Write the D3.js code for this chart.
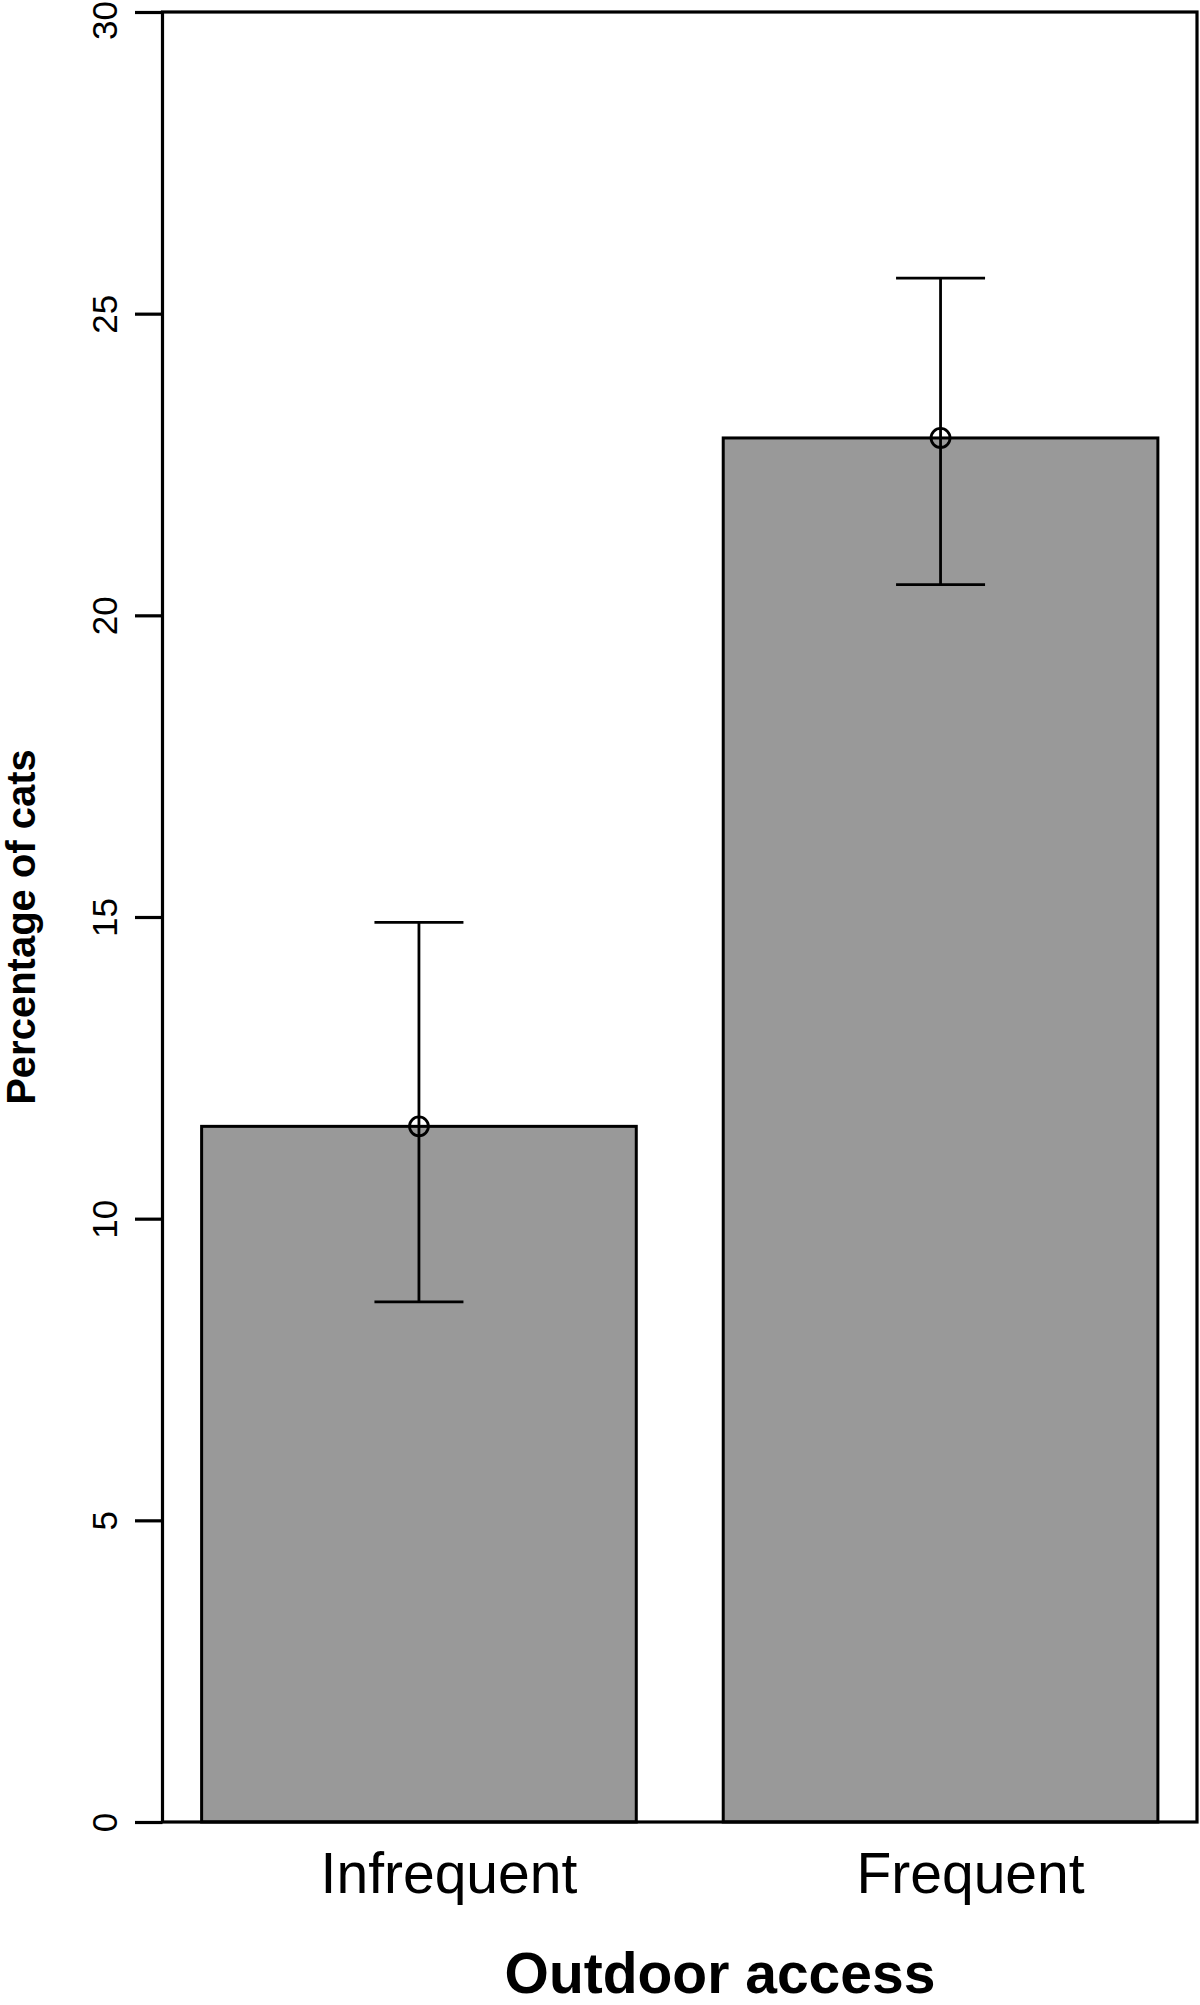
<!DOCTYPE html>
<html>
<head>
<meta charset="utf-8">
<script src="https://cdn.jsdelivr.net/npm/d3@7"></script>
<style>
  body { margin: 0; background: #fff; }
  svg { display: block; }
  text { font-family: "Liberation Sans", Arial, Helvetica, sans-serif; fill: #000; }
</style>
</head>
<body>
<script>
// data
var categories = ["Infrequent", "Frequent"];
var percent = [11.53, 22.94];
var ciLow = [8.62, 20.51];
var ciHigh = [14.91, 25.59];
var yTicks = [0, 5, 10, 15, 20, 25, 30];

var width = 1200, height = 2005;
var margin = {top: 12, right: 3, bottom: 183, left: 162.5};

var svg = d3.select("body").append("svg")
  .attr("width", width)
  .attr("height", height);

var x = d3.scaleBand()
  .domain(categories)
  .range([margin.left, width - margin.right])
  .paddingInner(0.1667)
  .paddingOuter(0.075);

var y = d3.scaleLinear()
  .domain([0, 30])
  .range([height - margin.bottom, margin.top]);

var rows = categories.map(function(c, i) {
  return {cat: c, v: percent[i], lo: ciLow[i], hi: ciHigh[i]};
});

// bars
svg.append("g").selectAll("rect")
  .data(rows)
  .enter()
  .append("rect")
  .attr("x", function(d) { return x(d.cat); })
  .attr("y", function(d) { return y(d.v); })
  .attr("width", x.bandwidth())
  .attr("height", function(d) { return y(0) - y(d.v); })
  .attr("fill", "#999999")
  .attr("stroke", "#000")
  .attr("stroke-width", 3);

// error bars
var capHalf = 44.5;
var eb = svg.append("g").attr("stroke", "#000").attr("stroke-width", 2.8).attr("fill", "none");
rows.forEach(function(d) {
  var cx = x(d.cat) + x.bandwidth() / 2;
  eb.append("line").attr("x1", cx).attr("x2", cx).attr("y1", y(d.lo)).attr("y2", y(d.hi));
  eb.append("line").attr("x1", cx - capHalf).attr("x2", cx + capHalf).attr("y1", y(d.hi)).attr("y2", y(d.hi));
  eb.append("line").attr("x1", cx - capHalf).attr("x2", cx + capHalf).attr("y1", y(d.lo)).attr("y2", y(d.lo));
  eb.append("circle").attr("cx", cx).attr("cy", y(d.v)).attr("r", 9.5);
});

// box around plot
svg.append("rect")
  .attr("x", margin.left)
  .attr("y", margin.top)
  .attr("width", width - margin.right - margin.left)
  .attr("height", y(0) - margin.top)
  .attr("fill", "none")
  .attr("stroke", "#000")
  .attr("stroke-width", 3.2);

// y axis
var yAxis = d3.axisLeft(y)
  .tickValues(yTicks)
  .tickSize(27.5)
  .tickPadding(0)
  .tickFormat(d3.format("d"));

var ag = svg.append("g")
  .attr("transform", "translate(" + margin.left + ",0)")
  .call(yAxis);
ag.select(".domain").remove();
ag.selectAll(".tick line").attr("stroke", "#000").attr("stroke-width", 3.2);
ag.selectAll(".tick text")
  .attr("x", null).attr("dy", null)
  .attr("text-anchor", "middle")
  // keep the top label inside the picture
  .attr("transform", function(d) {
    var shift = Math.max(0, 20 - y(d));
    return "translate(-45.5," + shift + ") rotate(-90)";
  })
  .style("font-size", "35px")
  .style("font-family", "'Liberation Sans', Arial, sans-serif");

// category labels
svg.append("g").selectAll("text")
  .data(categories)
  .enter()
  .append("text")
  .attr("x", function(d) { return x(d) + x.bandwidth() / 2 + 30; })
  .attr("y", 1893)
  .attr("text-anchor", "middle")
  .style("font-size", "57px")
  .text(function(d) { return d; });

// axis titles
svg.append("text")
  .attr("x", 720)
  .attr("y", 1993)
  .attr("text-anchor", "middle")
  .style("font-size", "57px")
  .style("font-weight", "bold")
  .text("Outdoor access");

svg.append("text")
  .attr("transform", "translate(35,927) rotate(-90)")
  .attr("text-anchor", "middle")
  .style("font-size", "40px")
  .style("font-weight", "bold")
  .text("Percentage of cats");
</script>
</body>
</html>
